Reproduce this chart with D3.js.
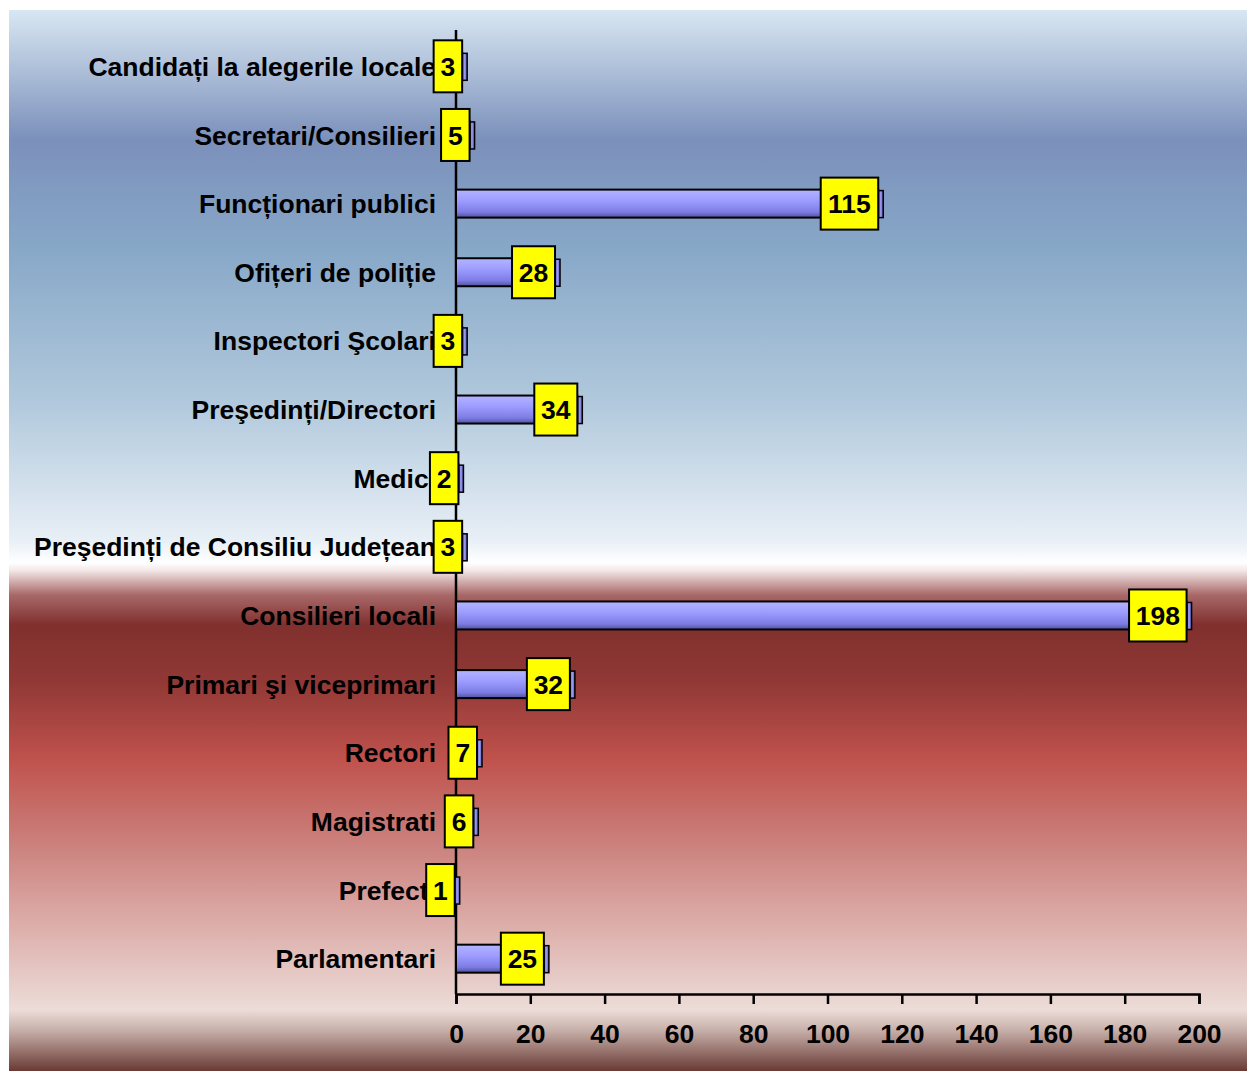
<!DOCTYPE html>
<html>
<head>
<meta charset="utf-8">
<script src="https://cdn.jsdelivr.net/npm/d3@7"></script>
<style>
  body { margin: 0; background: #fff; }
  text { font-family: "Liberation Sans", Arial, sans-serif; font-weight: bold; }
</style>
</head>
<body>
<div id="chart"></div>
<script>
// datos (de arriba a abajo)
const categories = [
  'Candidați la alegerile locale', 'Secretari/Consilieri', 'Funcționari publici',
  'Ofițeri de poliție', 'Inspectori Şcolari', 'Preşedinți/Directori', 'Medici',
  'Preşedinți de Consiliu Județean', 'Consilieri locali', 'Primari şi viceprimari',
  'Rectori', 'Magistrati', 'Prefecti', 'Parlamentari'
];
const values = [3, 5, 115, 28, 3, 34, 2, 3, 198, 32, 7, 6, 1, 25];
const xTicks = [0, 20, 40, 60, 80, 100, 120, 140, 160, 180, 200];

let width = 1247;
let height = 1071;

let svg = d3.select('#chart').append('svg')
  .attr('width', width)
  .attr('height', height);

let defs = svg.append('defs');

// fondo con degradado
let bg = defs.append('linearGradient').attr('id', 'bg')
  .attr('x1', 0).attr('y1', 0).attr('x2', 0).attr('y2', 1);
[
  [0, '#d8e7f2'], [0.1225, '#7b90bb'], [0.226, '#88a8c8'], [0.3676, '#b0c8dc'],
  [0.4995, '#e8eff6'], [0.521, '#ffffff'], [0.528, '#f4e8e8'], [0.5514, '#a86868'],
  [0.5796, '#80302e'], [0.6315, '#903835'], [0.7069, '#c0524d'], [0.7917, '#cc8480'],
  [0.8388, '#d8a09c'], [0.9425, '#ecdcd8'], [0.9613, '#c8b0aa'], [1, '#6a3a35']
].forEach(s => bg.append('stop').attr('offset', s[0]).attr('stop-color', s[1]));

let barGrad = defs.append('linearGradient').attr('id', 'barGrad')
  .attr('x1', 0).attr('y1', 0).attr('x2', 0).attr('y2', 1);
[[0, '#b4b4ff'], [0.4, '#9c9cff'], [0.8, '#7c7ce4'], [1, '#50509c']]
  .forEach(s => barGrad.append('stop').attr('offset', s[0]).attr('stop-color', s[1]));

let sideGrad = defs.append('linearGradient').attr('id', 'sideGrad')
  .attr('x1', 0).attr('y1', 0).attr('x2', 1).attr('y2', 0);
[[0, '#6a6ad0'], [0.5, '#9a9af4'], [1, '#5a5ab0']]
  .forEach(s => sideGrad.append('stop').attr('offset', s[0]).attr('stop-color', s[1]));

svg.append('rect')
  .attr('x', 9).attr('y', 10)
  .attr('width', width - 9).attr('height', height - 10)
  .attr('fill', 'url(#bg)');

// escalas
let x = d3.scaleLinear().domain([0, 200]).range([456, 1199]);
let y = d3.scaleBand().domain(categories).range([32, 993])
  .paddingInner(0.59).paddingOuter(0.295);
let cy = c => y(c) + y.bandwidth() / 2;
let depth = 5;

// etiquetas de categorías
svg.append('g').selectAll('text')
  .data(categories)
  .enter().append('text')
  .attr('x', 436)
  .attr('y', d => cy(d))
  .attr('dy', '0.36em')
  .attr('text-anchor', 'end')
  .attr('font-size', 26.5)
  .attr('fill', '#000')
  .text(d => d);

// eje X
let xAxis = svg.append('g')
  .attr('transform', 'translate(0, 994)')
  .call(d3.axisBottom(x).tickValues(xTicks).tickSize(10).tickPadding(20));
xAxis.select('.domain').attr('stroke', '#000').attr('stroke-width', 2.5);
xAxis.selectAll('.tick line').attr('stroke', '#000').attr('stroke-width', 2.5);
xAxis.selectAll('.tick text').attr('font-size', 26.5).attr('fill', '#000')
  .style('font-family', '"Liberation Sans", Arial, sans-serif').style('font-weight', 'bold');

// eje Y (línea vertical)
svg.append('line')
  .attr('x1', x(0)).attr('x2', x(0))
  .attr('y1', 30).attr('y2', 994)
  .attr('stroke', '#000').attr('stroke-width', 2.5);

// barras
let rows = categories.map((c, i) => ({ c: c, v: values[i] }));

let bars = svg.append('g').selectAll('g')
  .data(rows)
  .enter().append('g');

bars.append('rect')
  .attr('x', d => x(d.v) - depth)
  .attr('y', d => cy(d.c) - 13)
  .attr('width', depth)
  .attr('height', 27)
  .attr('fill', 'url(#sideGrad)')
  .attr('stroke', '#000').attr('stroke-width', 1.5);

bars.filter(d => x(d.v) - depth > x(0)).append('rect')
  .attr('x', x(0))
  .attr('y', d => cy(d.c) - 14)
  .attr('width', d => x(d.v) - depth - x(0))
  .attr('height', 28)
  .attr('fill', 'url(#barGrad)')
  .attr('stroke', '#000').attr('stroke-width', 2);

// cajas de valores
bars.each(function(d) {
  let g = d3.select(this);
  let label = String(d.v);
  let w = label.length * 14.5 + 14;
  let right = x(d.v) - depth;
  g.append('rect')
    .attr('x', right - w)
    .attr('y', cy(d.c) - 26)
    .attr('width', w)
    .attr('height', 52)
    .attr('fill', '#ffff00')
    .attr('stroke', '#000').attr('stroke-width', 2);
  g.append('text')
    .attr('x', right - w / 2)
    .attr('y', cy(d.c))
    .attr('dy', '0.36em')
    .attr('text-anchor', 'middle')
    .attr('font-size', 26.5)
    .attr('fill', '#000')
    .text(label);
});
</script>
</body>
</html>
